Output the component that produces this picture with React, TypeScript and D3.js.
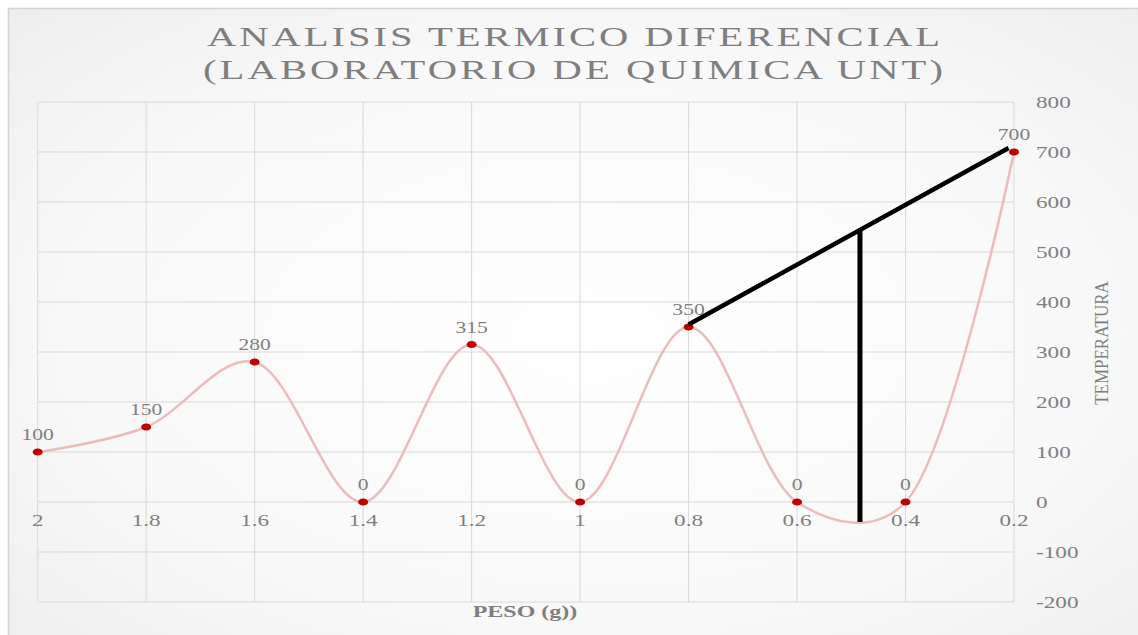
import React from "react";
import * as d3 from "d3";

// Sample weights (g) on the category axis, read right-to-left from 2 down to 0.2
const pesoCategories: number[] = [2, 1.8, 1.6, 1.4, 1.2, 1, 0.8, 0.6, 0.4, 0.2];
// Temperature recorded at each weight
const temperatura: number[] = [100, 150, 280, 0, 315, 0, 350, 0, 0, 700];
// Right-hand value axis ticks
const yTicks: number[] = [-200, -100, 0, 100, 200, 300, 400, 500, 600, 700, 800];

// Hand-drawn construction lines: tangent from the 0.8 g peak up to the 0.2 g point,
// and a drop line from it down to the curve's trough
const tangentStart: [number, number] = [0.8, 355];
const tangentEnd: [number, number] = [0.21, 708];
const dropPeso = 0.484;
const dropBottom = -40;

const W = 1138;
const H = 635;
const FONT = '"Liberation Serif", "Times New Roman", serif';
const TXT = "#7f7f7f";
const STRETCH = 1.45;

function SText(props: {
  x: number;
  y: number;
  size: number;
  anchor?: "start" | "middle" | "end";
  sx?: number;
  weight?: string | number;
  fill?: string;
  children: React.ReactNode;
}) {
  const { x, y, size, anchor = "middle", sx = STRETCH, weight = "normal", fill = TXT, children } = props;
  return (
    <text
      transform={`translate(${x},${y}) scale(${sx},1)`}
      textAnchor={anchor}
      fontFamily={FONT}
      fontSize={size}
      fontWeight={weight}
      fill={fill}
    >
      {children}
    </text>
  );
}

function TitleLine(props: { cx: number; y: number; width: number; children: React.ReactNode }) {
  const sx = 1.45;
  return (
    <text
      transform={`translate(${props.cx},${props.y}) scale(${sx},1)`}
      x={0}
      y={0}
      textAnchor="middle"
      fontFamily={FONT}
      fontSize={28}
      fill={TXT}
      textLength={props.width / sx}
      lengthAdjust="spacing"
    >
      {props.children}
    </text>
  );
}

export default function App() {
  const plotLeft = 37.7;
  const plotRight = 1014;
  const plotTop = 102;
  const plotBottom = 602;

  const x = d3.scaleLinear().domain([2, 0.2]).range([plotLeft, plotRight]);
  const y = d3.scaleLinear().domain([-200, 800]).range([plotBottom, plotTop]);

  const points = pesoCategories.map((p, i) => ({ p, v: temperatura[i] }));

  const curvePath =
    d3
      .line<{ p: number; v: number }>()
      .x((d) => x(d.p))
      .y((d) => y(d.v))
      .curve(d3.curveCatmullRom.alpha(0.3))(points) || "";

  // where the drop line meets the tangent
  const t = (tangentStart[0] - dropPeso) / (tangentStart[0] - tangentEnd[0]);
  const dropTop = tangentStart[1] + t * (tangentEnd[1] - tangentStart[1]);

  return (
    <svg
      width={W}
      height={H}
      style={{ position: "absolute", left: 0, top: 0, background: "#ffffff" }}
    >
      <defs>
        <radialGradient id="bg" cx="50%" cy="50%" r="75%">
          <stop offset="0%" stopColor="#ffffff" />
          <stop offset="60%" stopColor="#f8f8f8" />
          <stop offset="100%" stopColor="#ececec" />
        </radialGradient>
      </defs>

      {/* chart frame */}
      <rect x={8.5} y={8.5} width={W + 20} height={H + 20} fill="url(#bg)" stroke="#d4d4d4" strokeWidth={1.5} />

      {/* title */}
      <TitleLine cx={573.5} y={46} width={733}>
        ANALISIS TERMICO DIFERENCIAL
      </TitleLine>
      <TitleLine cx={573} y={79} width={740}>
        (LABORATORIO DE QUIMICA UNT)
      </TitleLine>

      {/* gridlines */}
      <g stroke="#d9d9d9" strokeWidth={1}>
        {yTicks.map((v) => (
          <line key={`h${v}`} x1={plotLeft} x2={plotRight} y1={y(v)} y2={y(v)} />
        ))}
        {pesoCategories.map((p) => (
          <line key={`v${p}`} x1={x(p)} x2={x(p)} y1={plotTop} y2={plotBottom} />
        ))}
      </g>

      {/* category labels sit at the zero line */}
      {pesoCategories.map((p) => (
        <SText key={`xl${p}`} x={x(p)} y={y(0) + 24} size={16}>
          {String(p)}
        </SText>
      ))}

      {/* value axis on the right */}
      {yTicks.map((v) => (
        <SText key={`yl${v}`} x={1036} y={y(v) + 5.5} size={16} anchor="start">
          {v < 0 ? `-${Math.abs(v)}` : String(v)}
        </SText>
      ))}

      {/* axis titles */}
      <SText x={525} y={617} size={16} weight="bold" sx={1.5}>
        PESO (g))
      </SText>
      <text
        transform={`translate(1108,343) scale(1.15,1) rotate(-90)`}
        textAnchor="middle"
        fontFamily={FONT}
        fontSize={17}
        fill={TXT}
      >
        TEMPERATURA
      </text>

      {/* smoothed series line */}
      <path d={curvePath} fill="none" stroke="#ebbcbc" strokeWidth={2.5} />

      {/* markers */}
      {points.map((d) => (
        <ellipse key={`m${d.p}`} cx={x(d.p)} cy={y(d.v)} rx={5} ry={3.6} fill="#c00000" />
      ))}

      {/* data labels */}
      {points.map((d) => (
        <SText key={`dl${d.p}`} x={x(d.p)} y={y(d.v) - 12} size={16} sx={1.35}>
          {String(d.v)}
        </SText>
      ))}

      {/* construction lines */}
      <line
        x1={x(tangentStart[0])}
        y1={y(tangentStart[1])}
        x2={x(tangentEnd[0])}
        y2={y(tangentEnd[1])}
        stroke="#000"
        strokeWidth={4.5}
      />
      <line
        x1={x(dropPeso)}
        y1={y(dropTop)}
        x2={x(dropPeso)}
        y2={y(dropBottom)}
        stroke="#000"
        strokeWidth={5}
      />
    </svg>
  );
}
